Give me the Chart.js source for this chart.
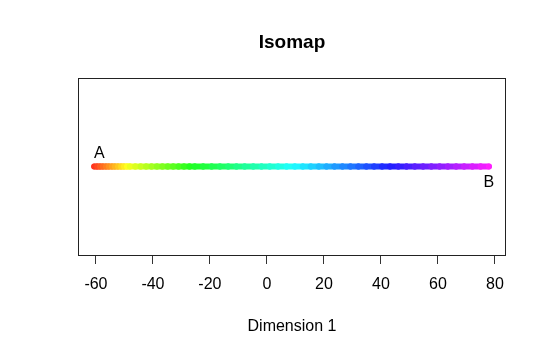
<!DOCTYPE html>
<html>
<head>
<meta charset="utf-8">
<script src="https://cdn.jsdelivr.net/npm/chart.js@4.4.1/dist/chart.umd.min.js"></script>
<style>
  html, body { margin: 0; padding: 0; background: #fff; }
  #wrap { width: 546px; height: 353px; }
</style>
</head>
<body>
<div id="wrap"><canvas id="canvas" width="546" height="353"></canvas></div>
<script>
// embedding coordinate along dimension 1, in point order (colour follows order)
var dim1 = [
  -60.6, -59.6, -58.6, -57.6, -56.5, -55.5, -54.4, -53.4, -52.3, -51.2, -50.2, -49.1, -48.1,
  -46.2, -44.3, -42.4, -40.5, -38.6, -36.7, -34.8, -32.9, -31.0, -29.1, -27.2, -25.3,
  -22.4, -19.4, -16.5, -13.6, -10.7, -7.8, -4.8, -1.9, 1.0, 3.9, 6.9, 9.8,
  12.6, 15.4, 18.2, 20.9, 23.7, 26.5, 29.3, 32.1, 34.9, 37.6, 40.4, 43.2,
  46.1, 49.0, 51.9, 54.8, 57.7, 60.6, 63.5, 66.4, 69.2, 72.1, 75.0, 77.9
];
var dim2 = dim1.map(function() { return 0; });
var xTicks = [-60, -40, -20, 0, 20, 40, 60, 80];
var endLabels = ['A', 'B'];
var chartTitle = 'Isomap';
var xTitle = 'Dimension 1';

var n = dim1.length;
var colors = dim1.map(function(v, i) {
  return 'hsl(' + (6 + 294 * i / (n - 1)) + ', 100%, 56%)';
});
var pts = dim1.map(function(v, i) { return { x: v, y: dim2[i] }; });

var FONT = '"Liberation Sans", Arial, Helvetica, sans-serif';

// box round the plot, and the A / B labels at the two ends
var extras = {
  id: 'extras',
  afterDatasetsDraw: function(chart) {
    var ctx = chart.ctx, a = chart.chartArea;
    var xs = chart.scales.x, ys = chart.scales.y;
    ctx.save();
    ctx.strokeStyle = '#222';
    ctx.lineWidth = 1;
    ctx.strokeRect(Math.round(a.left) + 0.5, Math.round(a.top) + 0.5,
                   Math.round(a.right - a.left) - 1, Math.round(a.bottom - a.top));
    ctx.fillStyle = '#000';
    ctx.font = '16px ' + FONT;
    ctx.textAlign = 'center';
    ctx.textBaseline = 'middle';
    var first = pts[0], last = pts[n - 1];
    ctx.fillText(endLabels[0], xs.getPixelForValue(first.x) + 5, ys.getPixelForValue(first.y) - 13);
    ctx.fillText(endLabels[1], xs.getPixelForValue(last.x), ys.getPixelForValue(last.y) + 16);
    ctx.restore();
  }
};

var chart_config = {
  type: 'scatter',
  data: {
    datasets: [{
      data: pts,
      showLine: true,
      borderWidth: 6,
      borderCapStyle: 'round',
      segment: {
        borderColor: function(c) { return colors[c.p0DataIndex]; }
      },
      pointRadius: 3,
      pointBorderWidth: 0,
      pointBackgroundColor: colors
    }]
  },
  options: {
    responsive: false,
    animation: false,
    layout: { padding: { left: 78, right: 40, top: 0, bottom: 0 } },
    plugins: {
      legend: { display: false },
      tooltip: { enabled: false },
      title: {
        display: true,
        text: chartTitle,
        color: '#000',
        font: { family: FONT, size: 19, weight: 'bold' },
        padding: { top: 31, bottom: 24 }
      }
    },
    scales: {
      x: {
        type: 'linear',
        min: -66.3,
        max: 83.9,
        afterBuildTicks: function(s) { s.ticks = xTicks.map(function(v) { return { value: v }; }); },
        afterFit: function(s) { s.height = 98; },
        grid: { drawOnChartArea: false, tickLength: 9, color: '#333', lineWidth: 1 },
        border: { display: false },
        ticks: {
          color: '#000',
          padding: 11,
          font: { family: FONT, size: 16 },
          maxRotation: 0,
          autoSkip: false
        },
        title: {
          display: true,
          text: xTitle,
          color: '#000',
          font: { family: FONT, size: 16 },
          padding: { top: 0, bottom: 17 }
        }
      },
      y: {
        display: false,
        min: -1,
        max: 1
      }
    }
  },
  plugins: [extras]
};

window.myChart = new Chart(document.getElementById('canvas').getContext('2d'), chart_config);
</script>
</body>
</html>
